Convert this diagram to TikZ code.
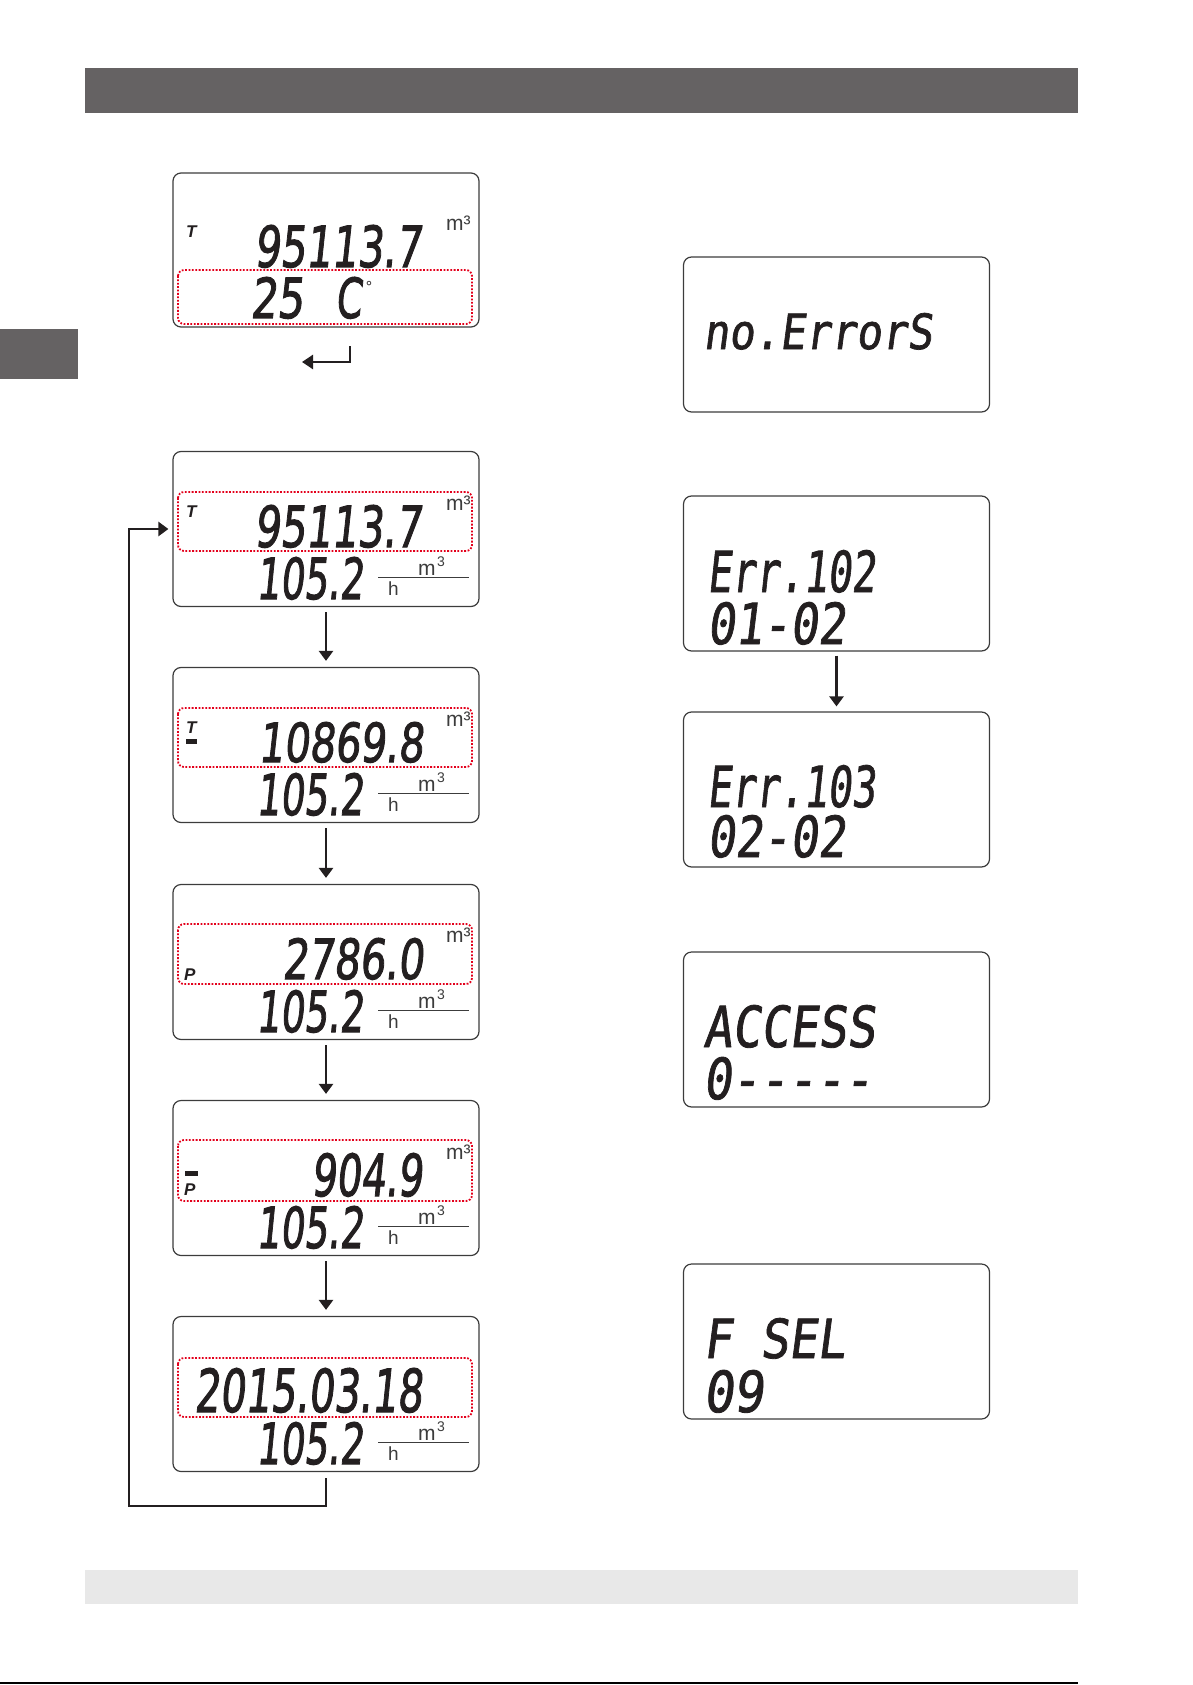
\documentclass[tikz,border=0pt]{standalone}
\usepackage{fontspec}
\usepackage{graphicx}
\setmainfont{Liberation Sans}
\newfontfamily\lcdnum{DejaVu Sans}[FakeSlant=0.15,FakeBold=2]
\newfontfamily\lcdmono{DejaVu Sans Mono}[FakeSlant=0.15,FakeBold=1.5]
\usetikzlibrary{arrows.meta}
\definecolor{bardark}{HTML}{656263}
\definecolor{barlight}{HTML}{E8E8E8}
\definecolor{dotred}{HTML}{E3001B}
\definecolor{framecol}{HTML}{3C3C3C}
\definecolor{inkcol}{HTML}{231F20}
\tikzset{
  screen/.style={draw=framecol, line width=1.2pt, rounded corners=8pt, minimum width=306pt, minimum height=155pt, inner sep=0pt},
  hl/.style={draw=dotred, line width=1.8pt, dash pattern=on 1.8pt off 1.6pt, rounded corners=6pt},
  arr/.style={draw=inkcol, line width=2.5pt, -{Triangle[length=10pt,width=14pt]}},
  lcd/.style={anchor=base west, inner sep=0pt, text=inkcol},
  unitm/.style={anchor=base west, inner sep=0pt, font=\fontsize{21}{21}\selectfont, text=framecol},
  unith/.style={anchor=base west, inner sep=0pt, font=\fontsize{19}{19}\selectfont, text=framecol},
  unitsup/.style={anchor=base west, inner sep=0pt, font=\fontsize{14}{14}\selectfont, text=framecol},
  ind/.style={anchor=base west, inner sep=0pt, font=\fontsize{17}{17}\selectfont\bfseries\itshape, text=inkcol},
  fracline/.style={draw=framecol, line width=1pt},
}
% name, x, baseline, width, height, font, text
\newcommand\lcdtext[7]{\node[lcd] (#1) at (#2,#3) {\resizebox{#4pt}{#5pt}{#6#7}};}
\begin{document}
\begin{tikzpicture}[x=1pt,y=-1pt]
\useasboundingbox (0,0) rectangle (1192,1685);
% page decoration
\fill[bardark] (85,68) rectangle (1078,113);
\fill[bardark] (0,329) rectangle (78,379);
\fill[barlight] (85,1570) rectangle (1078,1604);
\draw[line width=2pt] (0,1683) -- (1078,1683);

% ---------- left column ----------
\node[screen, minimum height=154pt] (s1) at (326,250) {};
\node[screen] (s2) at (326,529) {};
\node[screen] (s3) at (326,745) {};
\node[screen] (s4) at (326,962) {};
\node[screen] (s5) at (326,1178) {};
\node[screen] (s6) at (326,1394) {};

% screen 1
\draw[hl] (178,270) rectangle (472,324);
\node[ind] (t1) at (186,238) {T};
\lcdtext{n1}{254}{267}{167}{42}{\lcdnum}{95113.7}
\node[unitm] (u1) at (446,231) {m³};
\lcdtext{n1b}{250}{318}{53}{41}{\lcdnum}{25}
\lcdtext{n1c}{335}{318}{26}{41}{\lcdnum}{C}
\node[inner sep=0pt, font=\fontsize{16}{16}\selectfont, text=inkcol] (deg) at (369,287) {°};

% screen 2
\draw[hl] (178,492) rectangle (472,551);
\node[ind] (t2) at (186,517) {T};
\lcdtext{n2}{254}{547}{167}{42}{\lcdnum}{95113.7}
\node[unitm] (u2) at (446,510) {m³};

% screen 3
\draw[hl] (178,708) rectangle (472,767);
\node[ind] (t3) at (186,733) {T};
\fill[inkcol] (186,739) rectangle (197,744);
\lcdtext{n3}{258}{762}{165}{40}{\lcdnum}{10869.8}
\node[unitm] (u3) at (446,726) {m³};

% screen 4
\draw[hl] (178,924) rectangle (472,984);
\node[ind] (p4) at (184,980) {P};
\lcdtext{n4}{282}{979}{141}{41}{\lcdnum}{2786.0}
\node[unitm] (u4) at (446,942) {m³};

% screen 5
\draw[hl] (178,1140) rectangle (472,1201);
\fill[inkcol] (185,1171) rectangle (198,1176);
\node[ind] (p5) at (184,1195) {P};
\lcdtext{n5}{311}{1196}{111}{43}{\lcdnum}{904.9}
\node[unitm] (u5) at (446,1159) {m³};

% screen 6
\draw[hl] (178,1358) rectangle (472,1417);
\lcdtext{n6}{194}{1412}{228}{44}{\lcdnum}{2015.03.18}

% flow rate line (105.2 m3/h) in screens 2-6
\foreach \T/\k in {451/2,667/3,884/4,1100/5,1316/6}{
  \lcdtext{f\k}{256}{\T+148}{107}{42}{\lcdnum}{105.2}
  \draw[fracline] (378,\T+126) -- (469,\T+126);
  \node[unitm] (fm\k) at (418,\T+124) {m};
  \node[unitsup] (fs\k) at (437,\T+115) {3};
  \node[unith] (fh\k) at (388,\T+144) {h};
}

% enter symbol under screen 1
\coordinate (rtA) at (350,346);
\coordinate (rtB) at (302,362);
\draw[arr, -{Triangle[length=11pt,width=14pt]}] (rtA) |- (rtB);

% arrows left column
\draw[arr] ([yshift=-5pt]s2.south) -- ([yshift=6pt]s3.north);
\draw[arr] ([yshift=-5pt]s3.south) -- ([yshift=6pt]s4.north);
\draw[arr] ([yshift=-5pt]s4.south) -- ([yshift=6pt]s5.north);
\draw[arr] ([yshift=-5pt]s5.south) -- ([yshift=6pt]s6.north);
% loop back
\coordinate (lpA) at (129,1506);
\coordinate (lpB) at (129,529);
\draw[arr] ([yshift=-6pt]s6.south) |- (lpA) -- (lpB) -- ([xshift=-4pt]s2.west);

% ---------- right column ----------
\node[screen] (r1) at (836.5,334.5) {};
\node[screen] (r2) at (836.5,573.5) {};
\node[screen] (r3) at (836.5,789.5) {};
\node[screen] (r4) at (836.5,1029.5) {};
\node[screen] (r5) at (836.5,1341.5) {};

\lcdtext{e1}{703}{349}{229}{36}{\lcdmono}{no.ErrorS}
\lcdtext{e2}{707}{592}{168}{42}{\lcdmono}{Err.102}
\lcdtext{e2b}{707}{644}{138}{42}{\lcdmono}{01-02}
\lcdtext{e3}{707}{807}{168}{42}{\lcdmono}{Err.103}
\lcdtext{e3b}{707}{857}{138}{42}{\lcdmono}{02-02}
\lcdtext{e4}{703}{1047}{172}{42}{\lcdmono}{ACCESS}
\lcdtext{e4b}{703}{1099}{169}{42}{\lcdmono}{0-----}
\lcdtext{e5}{703}{1358}{142}{40}{\lcdmono}{F SEL}
\lcdtext{e5b}{703}{1412}{60}{42}{\lcdmono}{09}

\draw[arr] ([yshift=-4pt]r2.south) -- ([yshift=5pt]r3.north);
\end{tikzpicture}
\end{document}
